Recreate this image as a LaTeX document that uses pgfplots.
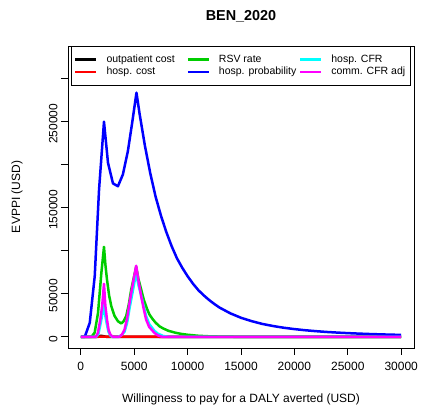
\documentclass[border=0pt]{standalone}
\usepackage{pgfplots}
\pgfplotsset{compat=1.18}
\usepackage{fontspec}
\setmainfont{Liberation Sans}

\definecolor{rblack}{RGB}{0,0,0}
\definecolor{rred}{RGB}{255,0,0}
\definecolor{rgreen}{RGB}{0,205,0}
\definecolor{rblue}{RGB}{0,0,255}
\definecolor{rcyan}{RGB}{0,255,255}
\definecolor{rmagenta}{RGB}{255,0,255}

\begin{document}
\begin{tikzpicture}
\useasboundingbox (0,0) rectangle (433pt,411pt);
\begin{axis}[
  at={(68pt,63pt)}, anchor=south west,
  width=346pt, height=302pt, scale only axis,
  xmin=-1200, xmax=31200, ymin=-13000, ymax=338000,
  scaled ticks=false,
  axis line style={line width=0.9pt, black},
  tick style={line width=0.9pt, black},
  tick align=outside, major tick length=7pt,
  xtick pos=left, ytick pos=left,
  xtick={0,5000,10000,15000,20000,25000,30000},
  xticklabels={0,5000,10000,15000,20000,25000,30000},
  ytick={0,50000,100000,150000,200000,250000,300000},
  yticklabels={0,50000,,150000,,250000,},
  ticklabel style={font=\fontsize{12}{14}\selectfont},
  xticklabel style={anchor=north, yshift=-4pt},
  yticklabel style={rotate=90, anchor=south, xshift=-2pt},
  label style={font=\fontsize{12}{14}\selectfont},
  xlabel={Willingness to pay for a DALY averted (USD)},
  ylabel={EVPPI (USD)},
  xlabel style={at={(axis description cs:0.5,-0.1689)}, anchor=center},
  ylabel style={at={(axis description cs:-0.1474,0.5)}, anchor=center},
  title={BEN\_2020},
  title style={font=\fontsize{14.4}{17}\selectfont\bfseries,
               at={(axis description cs:0.5,1.0795)}, anchor=center},
  legend columns=3,
  legend image code/.code={\draw[#1] (0pt,0pt) -- (21pt,0pt);},
  legend style={at={(axis description cs:0.5,1)}, anchor=north,
    draw=black, line width=0.9pt, fill=white,
    font=\fontsize{10.5}{12}\selectfont,
    inner xsep=3pt, inner ysep=8pt, row sep=3pt,
    nodes={inner sep=0pt, text height=7.6pt, text depth=2.2pt},
    /tikz/every odd column/.append style={column sep=9pt},
    /tikz/every even column/.append style={column sep=3.5pt}},
  legend cell align=left,
  every axis plot/.append style={line width=2.5pt, line join=round},
]

% outpatient cost
\addplot[rblack, forget plot] coordinates {
  (0,0) (1500,0) (1900,1200) (2400,0) (30000,0)};
% hosp. cost
\addplot[rred, forget plot] coordinates {
  (0,0) (1500,0) (2170,300) (5200,300) (8000,0) (30000,0)};
% RSV rate
\addplot[rgreen, forget plot] coordinates {
  (0,0) (1000,0) (1300,5000) (1613,27900) (1925,74400) (2170,104600)
  (2300,84000) (2450,66600) (2650,48000) (2855,35600) (3150,24500)
  (3475,18100) (3785,15500) (4000,18000) (4250,24000) (4500,38000)
  (4720,55000) (4950,68000) (5183,81400) (5400,67000) (5650,55000)
  (5900,43000) (6200,32500) (6423,26000) (6700,21000) (7000,16500)
  (7353,12300) (7700,9800) (8200,7000) (8900,4600) (9500,3200)
  (10000,2400) (11000,1200) (12000,600) (13000,300) (14000,100)
  (15000,0) (30000,0)};
% hosp. probability
\addplot[rblue, forget plot] coordinates {
  (0,0) (372,0) (838,16300) (1303,70500) (1707,171000) (2170,250000)
  (2544,202300) (3010,178300) (3475,175000) (3940,188700) (4407,215800)
  (4810,248800) (5212,283700) (5500,259500) (6000,222200) (6500,190300)
  (7000,163000) (7500,141000) (8000,122000) (8500,105500) (9000,91300)
  (9500,80200) (10000,70400) (10500,61800) (11000,54300) (11500,48300)
  (12000,42900) (12500,38200) (13000,33900) (14000,27300) (15000,22100)
  (16000,18200) (17000,14950) (18000,12550) (19000,10530) (20000,8970)
  (21000,7650) (22000,6580) (23000,5660) (24000,4920) (25000,4280)
  (26000,3740) (27000,3270) (28000,2870) (29000,2520) (30000,2210)};
% hosp. CFR
\addplot[rcyan, forget plot] coordinates {
  (0,0) (1450,0) (1650,3500) (1830,14000) (2000,25000) (2170,41400)
  (2300,24000) (2450,14000) (2600,5500) (2760,1500) (2950,0) (3500,0)
  (3800,1800) (4096,6000) (4330,16000) (4560,33000) (4850,52000)
  (5183,74400) (5400,60000) (5650,48000) (5900,35000) (6115,24000)
  (6400,15000) (6890,7000) (7200,3800) (7700,1000) (8200,0) (30000,0)};
% comm. CFR adj
\addplot[rmagenta, forget plot] coordinates {
  (0,0) (1400,0) (1600,4500) (1830,20100) (2000,36000) (2170,61600)
  (2300,36000) (2450,20100) (2600,8000) (2760,2700) (3000,0) (3600,0)
  (3850,2500) (4096,8500) (4330,21000) (4560,39500) (4850,60000)
  (5183,82600) (5400,65000) (5650,47200) (5900,32000) (6115,20100)
  (6400,11500) (6890,4600) (7200,1800) (7600,0) (30000,0)};

\addlegendimage{rblack, line width=2.4pt}
\addlegendentry{\makebox[76.5pt][l]{outpatient cost}}
\addlegendimage{rgreen, line width=2.4pt}
\addlegendentry{\makebox[76.5pt][l]{RSV rate}}
\addlegendimage{rcyan, line width=2.4pt}
\addlegendentry{\makebox[76.5pt][l]{hosp. CFR}}
\addlegendimage{rred, line width=2.4pt}
\addlegendentry{\makebox[76.5pt][l]{hosp. cost}}
\addlegendimage{rblue, line width=2.4pt}
\addlegendentry{\makebox[76.5pt][l]{hosp. probability}}
\addlegendimage{rmagenta, line width=2.4pt}
\addlegendentry{\makebox[76.5pt][l]{comm. CFR adj}}
\end{axis}
\end{tikzpicture}
\end{document}
